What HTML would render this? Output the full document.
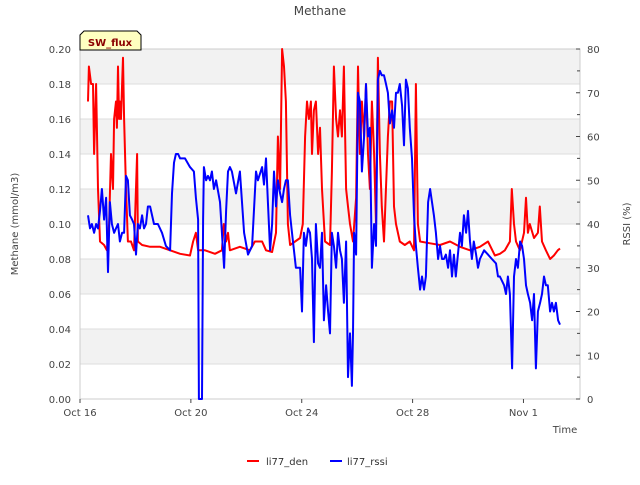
<!DOCTYPE html>
<html><head><meta charset="utf-8"><style>
body{margin:0;background:#fff;}
svg text{font-family:"DejaVu Sans","Liberation Sans",sans-serif;}
</style></head><body>
<svg id="chart" width="640" height="480" xmlns="http://www.w3.org/2000/svg">
<rect width="640" height="480" fill="#fff"/>
<g id="bands"></g>
<g id="grid"></g>
<rect x="80" y="49" width="500" height="350" fill="none" stroke="#ccc"/>
<g id="axes"></g>
<g id="series"></g>
<text x="320" y="15" text-anchor="middle" font-size="12" fill="#444">Methane</text>
<text transform="translate(18,224) rotate(-90)" text-anchor="middle" font-size="10" fill="#444">Methane (mmol/m3)</text>
<text transform="translate(630,224) rotate(-90)" text-anchor="middle" font-size="10" fill="#444">RSSI (%)</text>
<text x="565" y="433" text-anchor="middle" font-size="10" fill="#444">Time</text>
<g>
<path d="M84,31 L137,31 L141,35 L141,50 L80,50 L80,35 Z" fill="#ffffc0" stroke="#000" stroke-width="1"/>
<text x="110" y="46" text-anchor="middle" font-size="10" font-weight="bold" fill="#8b0000">SW_flux</text>
</g>
<g>
<g><line x1="247" y1="461" x2="259" y2="461" stroke="red" stroke-width="2"/><text x="266" y="465" font-size="10" fill="#333">li77_den</text></g>
<g><line x1="330" y1="461" x2="342" y2="461" stroke="blue" stroke-width="2"/><text x="347" y="465" font-size="10" fill="#333">li77_rssi</text></g>
</g>
</svg>
<script>
const xTickLabels=["Oct 16","Oct 20","Oct 24","Oct 28","Nov 1"];
const xTickDays=[0,4,8,12,16];
const leftTicks=[0,0.02,0.04,0.06,0.08,0.10,0.12,0.14,0.16,0.18,0.20];
const rightTicks=[0,10,20,30,40,50,60,70,80];
const denDays=[0.29,0.32,0.40,0.47,0.51,0.58,0.65,0.72,0.87,0.97,1.05,1.12,1.19,1.23,1.30,1.33,1.37,1.41,1.44,1.48,1.52,1.55,1.59,1.66,1.73,1.84,1.95,2.06,2.09,2.24,2.53,2.89,3.25,3.61,3.97,4.08,4.18,4.26,4.51,4.87,5.12,5.19,5.27,5.34,5.41,5.77,6.13,6.31,6.57,6.71,6.93,7.07,7.14,7.22,7.29,7.36,7.43,7.50,7.58,7.76,7.94,8.04,8.12,8.19,8.26,8.33,8.37,8.44,8.51,8.59,8.66,8.73,8.84,9.02,9.09,9.16,9.24,9.31,9.38,9.45,9.52,9.60,9.67,9.74,9.85,9.96,10.03,10.10,10.17,10.25,10.32,10.39,10.46,10.53,10.61,10.68,10.75,10.82,10.89,10.97,11.11,11.18,11.26,11.33,11.40,11.54,11.72,11.90,12.05,12.12,12.19,12.27,12.63,12.99,13.35,13.71,14.07,14.43,14.72,14.97,15.15,15.33,15.51,15.58,15.66,15.73,15.87,16.02,16.09,16.16,16.23,16.38,16.52,16.59,16.67,16.81,16.96,17.10,17.24,17.32];
const denValues=[0.17,0.19,0.18,0.18,0.14,0.18,0.12,0.09,0.088,0.085,0.10,0.14,0.12,0.16,0.17,0.155,0.19,0.16,0.17,0.16,0.18,0.195,0.16,0.12,0.09,0.09,0.085,0.14,0.09,0.088,0.087,0.087,0.085,0.083,0.082,0.09,0.095,0.085,0.085,0.083,0.085,0.10,0.09,0.095,0.085,0.087,0.085,0.09,0.09,0.085,0.084,0.095,0.15,0.12,0.20,0.19,0.17,0.10,0.088,0.09,0.092,0.10,0.15,0.17,0.16,0.17,0.14,0.165,0.17,0.14,0.155,0.12,0.09,0.088,0.13,0.19,0.16,0.15,0.165,0.15,0.19,0.12,0.11,0.10,0.09,0.115,0.19,0.14,0.17,0.15,0.18,0.14,0.12,0.17,0.14,0.10,0.195,0.14,0.11,0.09,0.15,0.17,0.17,0.11,0.10,0.09,0.088,0.09,0.085,0.18,0.10,0.09,0.089,0.088,0.09,0.087,0.085,0.087,0.09,0.082,0.083,0.085,0.09,0.12,0.10,0.09,0.085,0.095,0.115,0.095,0.10,0.092,0.095,0.11,0.09,0.085,0.08,0.082,0.085,0.086];
const rssiDays=[0.29,0.36,0.43,0.51,0.58,0.65,0.72,0.79,0.87,0.94,1.01,1.08,1.15,1.23,1.30,1.37,1.44,1.52,1.59,1.66,1.73,1.80,1.88,1.95,2.02,2.09,2.16,2.24,2.31,2.38,2.45,2.53,2.67,2.81,2.96,3.10,3.25,3.32,3.39,3.46,3.54,3.61,3.79,3.97,4.11,4.18,4.26,4.29,4.40,4.44,4.47,4.55,4.62,4.69,4.76,4.83,4.91,5.05,5.20,5.27,5.34,5.41,5.48,5.63,5.77,5.92,6.06,6.21,6.35,6.42,6.57,6.64,6.71,6.78,6.86,6.93,7.00,7.07,7.14,7.22,7.29,7.36,7.43,7.50,7.58,7.65,7.79,7.94,8.01,8.08,8.15,8.23,8.30,8.37,8.44,8.51,8.59,8.66,8.73,8.80,8.88,8.95,9.02,9.09,9.16,9.24,9.31,9.38,9.45,9.52,9.60,9.67,9.74,9.81,9.85,9.89,9.96,10.03,10.10,10.17,10.25,10.32,10.39,10.46,10.53,10.61,10.68,10.75,10.82,10.89,10.97,11.04,11.11,11.18,11.26,11.33,11.40,11.47,11.54,11.62,11.69,11.76,11.83,11.90,11.98,12.05,12.12,12.19,12.27,12.34,12.41,12.48,12.56,12.63,12.70,12.77,12.84,12.92,12.99,13.06,13.13,13.20,13.28,13.35,13.42,13.49,13.56,13.71,13.78,13.85,13.93,14.00,14.07,14.14,14.21,14.29,14.36,14.43,14.58,14.72,14.86,15.01,15.08,15.15,15.30,15.37,15.44,15.51,15.59,15.66,15.73,15.80,15.88,15.95,16.02,16.09,16.16,16.24,16.31,16.38,16.45,16.52,16.60,16.67,16.74,16.81,16.88,16.96,17.03,17.10,17.17,17.25,17.32];
const rssiValues=[42,39,40,38,40,39,43,48,41,46,29,45,40,38,39,40,36,38,38,51,50,42,41,40,33,40,39,42,39,40,44,44,40,40,38,35,34,47,54,56,56,55,55,53,52,46,41,0,0,41,53,50,51,50,52,48,50,45,30,43,52,53,52,47,52,38,33,35,52,50,53,49,55,45,34,40,52,44,50,47,45,48,50,50,42,38,30,30,20,38,35,39,38,32,13,40,31,30,38,18,26,20,15,38,35,30,38,34,32,22,36,5,15,3,15,38,33,70,68,52,60,72,60,62,30,40,35,73,75,74,74,72,70,63,66,62,70,70,72,67,58,73,71,62,55,42,35,30,25,28,25,28,45,48,45,42,38,32,35,32,32,33,30,34,28,33,28,38,35,42,38,43,36,32,36,33,30,32,34,33,32,31,28,28,26,24,28,24,7,28,32,30,36,35,32,26,24,22,18,24,7,20,22,24,28,26,26,20,22,20,22,18,17];

const X0=80,X1=580,Y0=399,Y1=49,DMAX=18.04;
const xs=d=>X0+d*(X1-X0)/DMAX;
const yl=v=>Y0-v/0.2*(Y0-Y1);
const yr=v=>Y0-v/80*(Y0-Y1);
const NS="http://www.w3.org/2000/svg";
function mk(tag,attrs,parent){const e=document.createElementNS(NS,tag);for(const k in attrs)e.setAttribute(k,attrs[k]);parent.appendChild(e);return e;}
const bands=document.getElementById('bands'),grid=document.getElementById('grid'),axes=document.getElementById('axes'),series=document.getElementById('series');
for(let i=0;i<leftTicks.length-1;i++){
  if(i%2===1){const r=mk('rect',{x:X0,y:yl(leftTicks[i+1]),width:X1-X0,height:yl(leftTicks[i])-yl(leftTicks[i+1]),fill:'#f2f2f2'},bands);
  
  }
}
leftTicks.forEach(v=>{
  const y=yl(v);
  const g=mk('line',{x1:X0,x2:X1,y1:y,y2:y,stroke:'#ddd'},grid);
  
  
  const t=mk('text',{x:71,y:y+4,'text-anchor':'end','font-size':10,fill:'#444'},axes);
  t.textContent=v.toFixed(2);
  
  
});
rightTicks.forEach(v=>{
  const y=yr(v);
  mk('line',{x1:X1,x2:X1-4,y1:y,y2:y,stroke:'#444'},axes);
  const t=mk('text',{x:587,y:y+4,'font-size':10,fill:'#444'},axes);
  t.textContent=v;
  
  
  if(v<80){const ym=yr(v+5);mk('line',{x1:X1,x2:X1-3,y1:ym,y2:ym,stroke:'#444'},axes);}
});
xTickDays.forEach((d,i)=>{
  const x=xs(d);
  mk('line',{x1:x,x2:x,y1:Y0,y2:Y0+4,stroke:'#444'},axes);
  const t=mk('text',{x:x,y:416,'text-anchor':'middle','font-size':10,fill:'#444'},axes);
  t.textContent=xTickLabels[i];
  
  
});
const den=mk('polyline',{points:denDays.map((d,i)=>xs(d).toFixed(1)+','+yl(denValues[i]).toFixed(1)).join(' '),fill:'none',stroke:'red','stroke-width':2,'stroke-linejoin':'round'},series);


const rssi=mk('polyline',{points:rssiDays.map((d,i)=>xs(d).toFixed(1)+','+yr(rssiValues[i]).toFixed(1)).join(' '),fill:'none',stroke:'blue','stroke-width':2,'stroke-linejoin':'round'},series);


</script>
</body></html>
